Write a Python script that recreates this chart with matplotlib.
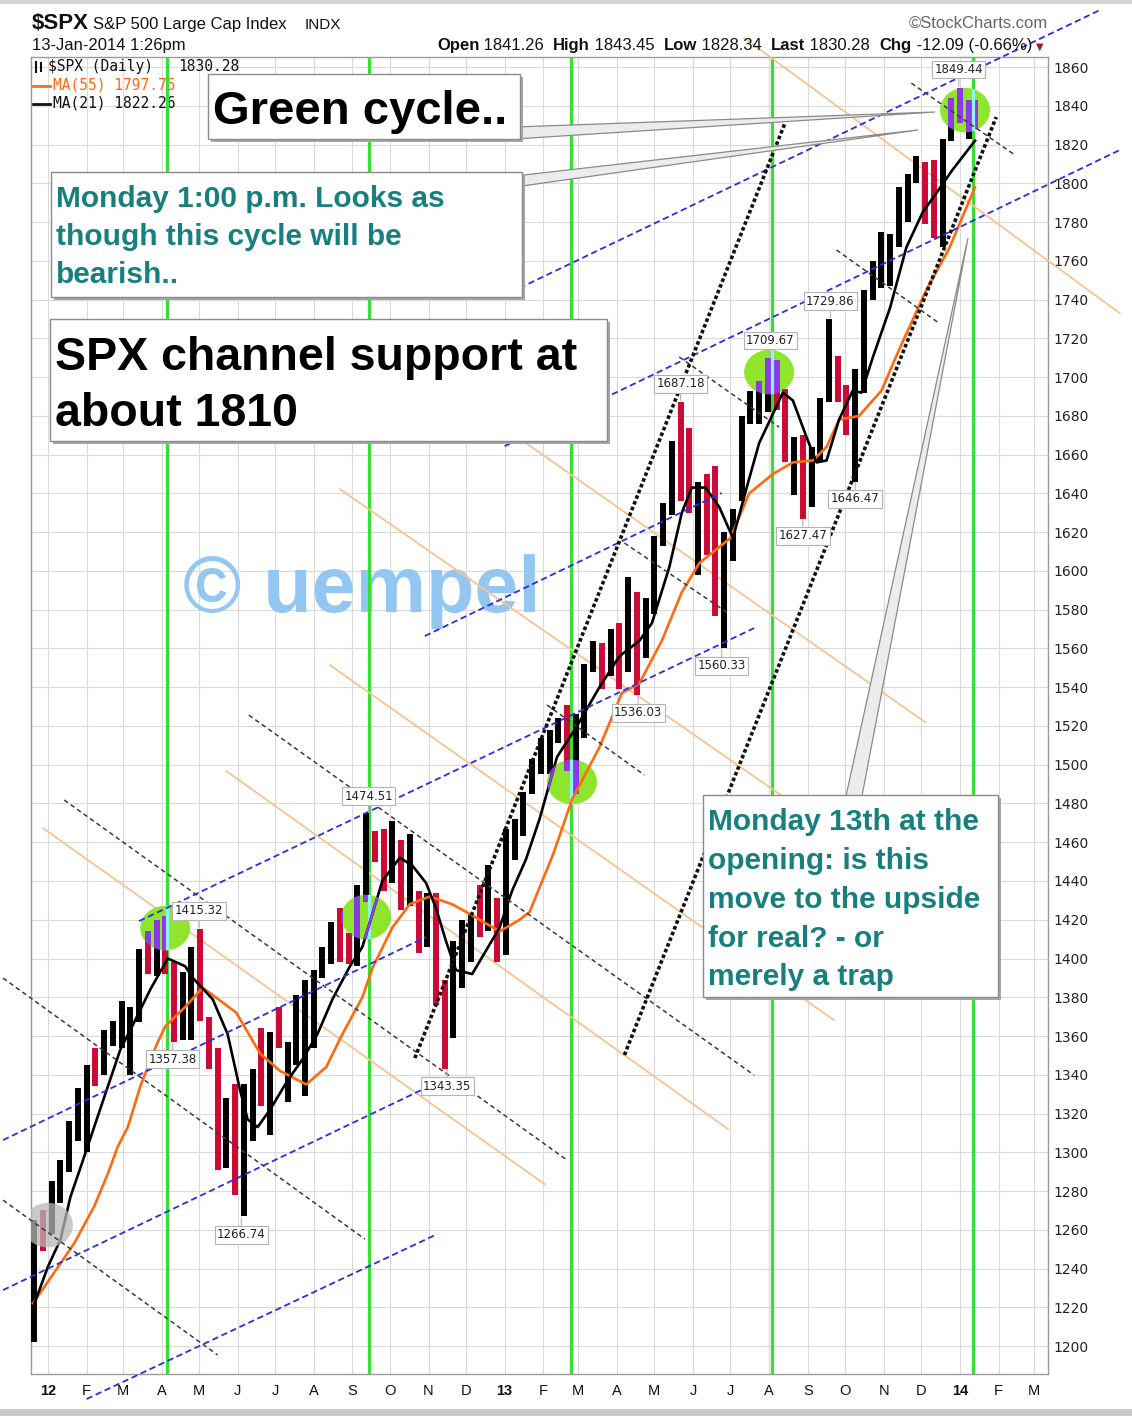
import matplotlib
matplotlib.use("Agg")
import matplotlib.pyplot as plt
import matplotlib.dates as mdates
from matplotlib.patches import Ellipse, Rectangle, Polygon
import pandas as pd

W, H = 1132, 1416

# weekly SPX bars (last one = Monday 13 Jan 2014, intraday)
week_end = list(pd.date_range("2011-12-23", "2014-01-10", freq="W-FRI")) + [pd.Timestamp("2014-01-13")]

spx_high = [
    1265, 1270,
    1285, 1296, 1316, 1333,
    1345, 1354, 1363, 1368,
    1378, 1375, 1405, 1414, 1420,
    1422, 1398, 1393, 1406,
    1415, 1370, 1354, 1328,
    1335, 1335, 1343, 1364, 1362,
    1375, 1357, 1381, 1389,
    1394, 1406, 1419, 1426, 1413,
    1438, 1475, 1466, 1467,
    1471, 1461, 1464, 1435,
    1434, 1434, 1389, 1409, 1420,
    1423, 1438, 1448, 1431,
    1467, 1472, 1486, 1503,
    1514, 1518, 1524, 1531,
    1526, 1552, 1564, 1563, 1570,
    1573, 1597, 1589, 1586,
    1618, 1635, 1667, 1687, 1674,
    1646, 1650, 1654, 1620,
    1632, 1680, 1693, 1698,
    1710, 1709, 1694, 1669, 1670,
    1664, 1689, 1730, 1711,
    1696, 1704, 1745, 1760,
    1775, 1774, 1798, 1805, 1814,
    1811, 1812, 1823, 1844,
    1849, 1843, 1843,
]
spx_low = [
    1202, 1249,
    1258, 1274, 1290, 1306,
    1300, 1334, 1340, 1355,
    1354, 1340, 1367, 1392, 1391,
    1392, 1357, 1358, 1358,
    1368, 1343, 1291, 1292,
    1278, 1267, 1306, 1324, 1309,
    1354, 1326, 1345, 1329,
    1354, 1390, 1397, 1398, 1397,
    1396, 1429, 1450, 1435,
    1439, 1425, 1427, 1403,
    1406, 1376, 1343, 1359, 1385,
    1398, 1411, 1414, 1398,
    1402, 1451, 1463, 1485,
    1495, 1495, 1511, 1497,
    1485, 1514, 1548, 1539, 1546,
    1539, 1548, 1536, 1555,
    1578, 1613, 1629, 1636, 1630,
    1598, 1608, 1577, 1560,
    1605, 1636, 1676, 1676,
    1682, 1683, 1656, 1639, 1627,
    1633, 1656, 1687, 1687,
    1670, 1646, 1692, 1740,
    1746, 1747, 1767, 1780, 1800,
    1779, 1772, 1767, 1822,
    1831, 1823, 1828,
]
spx_close = [
    1265, 1258,
    1278, 1289, 1315, 1316,
    1345, 1343, 1361, 1366,
    1370, 1371, 1404, 1397, 1408,
    1398, 1370, 1379, 1403,
    1369, 1353, 1295, 1318,
    1278, 1326, 1343, 1335, 1362,
    1355, 1357, 1363, 1386,
    1391, 1406, 1418, 1411, 1407,
    1438, 1466, 1460, 1441,
    1461, 1429, 1433, 1412,
    1414, 1380, 1360, 1409, 1416,
    1418, 1414, 1430, 1402,
    1466, 1472, 1486, 1503,
    1513, 1518, 1520, 1516,
    1518, 1551, 1561, 1557, 1569,
    1553, 1589, 1555, 1582,
    1614, 1634, 1667, 1650, 1631,
    1643, 1627, 1592, 1606,
    1632, 1680, 1692, 1692,
    1710, 1691, 1656, 1664, 1633,
    1655, 1688, 1710, 1692,
    1691, 1703, 1745, 1760,
    1762, 1771, 1798, 1805, 1806,
    1805, 1775, 1818, 1841,
    1831, 1842, 1830,
]

ma55_dates = ["2011-12-20", "2012-01-22", "2012-02-07", "2012-02-18", "2012-02-26", "2012-03-05",
              "2012-03-15", "2012-03-27", "2012-04-04", "2012-04-20", "2012-05-04", "2012-05-31",
              "2012-06-19", "2012-07-05", "2012-07-26", "2012-08-11", "2012-08-24", "2012-09-09",
              "2012-09-17", "2012-10-03", "2012-10-17", "2012-11-02", "2012-11-20", "2012-12-04",
              "2012-12-28", "2013-01-13", "2013-01-21", "2013-02-09", "2013-02-24", "2013-03-18",
              "2013-04-05", "2013-04-19", "2013-05-07", "2013-05-23", "2013-06-06", "2013-07-01",
              "2013-07-16", "2013-08-04", "2013-08-20", "2013-09-05", "2013-09-16", "2013-09-26",
              "2013-10-12", "2013-10-30", "2013-11-13", "2013-12-05", "2013-12-23", "2014-01-13"]
ma55 = [1222, 1253, 1272, 1289, 1303, 1313, 1334, 1354, 1365, 1375, 1385, 1372,
        1351, 1342, 1335, 1344, 1361, 1380, 1395, 1416, 1428, 1432, 1428, 1423,
        1414, 1420, 1424, 1454, 1482, 1509, 1537, 1542, 1564, 1589, 1604, 1617,
        1640, 1650, 1656, 1657, 1664, 1678, 1680, 1693, 1714, 1745, 1766, 1798]

ma21_dates = ["2011-12-20", "2012-01-01", "2012-01-11", "2012-01-19", "2012-01-27", "2012-02-07",
              "2012-02-18", "2012-02-28", "2012-03-10", "2012-03-23", "2012-04-06", "2012-04-20",
              "2012-04-26", "2012-05-12", "2012-05-24", "2012-06-03", "2012-06-09", "2012-06-17",
              "2012-06-27", "2012-07-11", "2012-07-23", "2012-08-04", "2012-08-16", "2012-08-30",
              "2012-09-09", "2012-09-25", "2012-10-09", "2012-10-19", "2012-10-30", "2012-11-07",
              "2012-11-15", "2012-11-23", "2012-12-06", "2012-12-17", "2012-12-28", "2013-01-07",
              "2013-01-18", "2013-01-29", "2013-02-12", "2013-02-28", "2013-03-18", "2013-04-03",
              "2013-04-19", "2013-04-29", "2013-05-13", "2013-05-23", "2013-05-31", "2013-06-11",
              "2013-06-22", "2013-07-03", "2013-07-14", "2013-07-24", "2013-08-04", "2013-08-12",
              "2013-08-20", "2013-08-31", "2013-09-08", "2013-09-16", "2013-09-26", "2013-10-07",
              "2013-10-14", "2013-10-23", "2013-11-06", "2013-11-19", "2013-12-02", "2013-12-13",
              "2013-12-26", "2014-01-13"]
ma21 = [1220, 1241, 1255, 1277, 1292, 1313, 1334, 1353, 1367, 1384, 1400, 1396,
        1390, 1379, 1361, 1332, 1317, 1313, 1322, 1337, 1348, 1361, 1379, 1396,
        1406, 1440, 1452, 1448, 1439, 1426, 1409, 1394, 1392, 1404, 1416, 1435,
        1451, 1472, 1504, 1520, 1540, 1556, 1564, 1573, 1602, 1630, 1643, 1643,
        1633, 1617, 1643, 1666, 1681, 1692, 1688, 1669, 1656, 1657, 1678, 1693,
        1692, 1710, 1736, 1767, 1785, 1795, 1807, 1822]

# green cycle lines and the highlighted turns
cycle_dates = ["2012-04-05", "2012-09-14", "2013-02-23", "2013-08-03", "2014-01-11"]
cycle_marks = [("2012-04-04", 1415.7), ("2012-09-12", 1421.4), ("2013-02-24", 1491.1),
               ("2013-08-01", 1702.6), ("2014-01-05", 1837.8)]
gray_mark = ("2012-01-01", 1262.4)

# StockCharts high / low tags: date, value, +1 above / -1 below
peak_labels = [("2012-05-01", 1415.32, 1), ("2012-04-10", 1357.38, -1), ("2012-06-04", 1266.74, -1),
               ("2012-09-14", 1474.51, 1), ("2012-11-16", 1343.35, -1), ("2013-04-18", 1536.03, -1),
               ("2013-05-22", 1687.18, 1), ("2013-06-24", 1560.33, -1), ("2013-08-02", 1709.67, 1),
               ("2013-08-28", 1627.47, -1), ("2013-09-19", 1729.86, 1), ("2013-10-09", 1646.47, -1),
               ("2013-12-31", 1849.44, 1)]

# hand-drawn trend lines: (date1, price1, date2, price2)
blue_lines = [("2011-11-26", 1306.3, "2012-10-30", 1411.1),
              ("2011-11-26", 1228.9, "2012-11-02", 1334.2),
              ("2012-02-01", 1172.7, "2012-11-08", 1257.8),
              ("2012-03-14", 1419.3, "2013-07-20", 1570.5),
              ("2012-10-29", 1566.4, "2013-06-24", 1640.2),
              ("2013-01-13", 1746.0, "2014-04-23", 1889.4),
              ("2013-01-01", 1664.4, "2014-05-09", 1817.2)]
dotted_lines = [("2012-10-21", 1348.6, "2013-08-14", 1831.6),
                ("2013-04-07", 1350.2, "2014-01-30", 1834.2)]
dashed_lines = [("2011-11-26", 1389.9, "2012-09-11", 1255.2),
                ("2012-06-10", 1525.6, "2013-07-20", 1339.8),
                ("2012-01-14", 1481.8, "2013-02-20", 1296.0),
                ("2011-11-26", 1275.3, "2012-05-16", 1195.4),
                ("2013-02-04", 1530.8, "2013-04-23", 1494.7),
                ("2013-04-07", 1614.4, "2013-06-29", 1578.3),
                ("2013-05-21", 1710.4, "2013-08-09", 1674.2),
                ("2013-09-24", 1765.6, "2013-12-14", 1728.4),
                ("2013-11-23", 1851.7, "2014-02-14", 1814.6)]
orange_lines = [("2011-12-28", 1467.3, "2013-02-02", 1283.6),
                ("2012-05-23", 1496.7, "2013-06-29", 1312.0),
                ("2012-08-14", 1551.4, "2013-09-22", 1368.2),
                ("2012-08-22", 1642.2, "2013-12-04", 1432.7),
                ("2013-01-18", 1666.0, "2013-12-04", 1522.0),
                ("2013-07-12", 1875.0, "2014-05-09", 1733.0)]

y_ticks = list(range(1200, 1861, 20))
months = pd.date_range("2012-01-01", "2014-03-01", freq="MS")

SANS = ["Liberation Sans", "DejaVu Sans"]
TEAL = "#17807f"
plt.rcParams["font.family"] = ["DejaVu Sans"]


def dn(s):
    return mdates.date2num(pd.Timestamp(s).to_pydatetime())


def fx(x):
    return x / W


def fy(y):
    return 1 - y / H


fig = plt.figure(figsize=(W / 100, H / 100), dpi=100)
fig.patch.set_facecolor("white")
ax = fig.add_axes([fx(31), fy(1374), (1048 - 31) / W, (1374 - 57) / H])
base = dn("2012-01-01")
ax.set_xlim(base - 13.6, base + 801.5)
ax.set_ylim(1185.6, 1865.2)

# grid / axes
ax.set_yticks(y_ticks)
ax.set_xticks([dn(m) for m in months])
ax.set_xticklabels([m.strftime("%y") if m.month == 1 else m.strftime("%b")[0] for m in months])
for lab, m in zip(ax.get_xticklabels(), months):
    lab.set_family(SANS)
    if m.month == 1:
        lab.set_fontweight("bold")
        lab.set_fontsize(12)
ax.yaxis.tick_right()
ax.tick_params(axis="y", length=0, pad=4, labelsize=10, labelcolor="#222222")
ax.tick_params(axis="x", length=0, pad=7, labelsize=10.5, labelcolor="#111111")
ax.grid(True, color="#dadada", lw=0.8)
ax.set_axisbelow(True)
for sp in ax.spines.values():
    sp.set_color("#9a9a9a")
    sp.set_linewidth(1)

# cycle lines
for d in cycle_dates:
    ax.axvline(dn(d), color="#35e035", lw=2.3, zorder=3)

# price bars
bar_x = [dn(d) - 2 for d in week_end[:-1]] + [dn(week_end[-1])]
cols = []
for i, c in enumerate(spx_close):
    prev = spx_close[i - 1] if i > 0 else c
    cols.append("#000000" if c >= prev else "#cc0a35")
ax.vlines(bar_x, spx_low, spx_high, colors=cols, lw=4.3, zorder=4)

ax.plot([dn(d) for d in ma55_dates], ma55, color="#ff6a10", lw=1.9, zorder=5)
ax.plot([dn(d) for d in ma21_dates], ma21, color="#000000", lw=1.9, zorder=5)

# green highlight circles, bars inside turn violet
for d, p in cycle_marks:
    e = Ellipse((dn(d), p), 40, 23, fc="#8ee52c", ec="none", zorder=3.5)
    ax.add_patch(e)
    pv = ax.vlines(bar_x, spx_low, spx_high, colors="#8c3ae6", lw=4.3, zorder=4.2)
    pv.set_clip_path(e)
    for cd in cycle_dates:
        ax.axvline(dn(cd), color="#90f4f4", lw=2.3, zorder=4.3).set_clip_path(e)
    mv, = ax.plot([dn(x) for x in ma21_dates], ma21, color="#8c3ae6", lw=1.9, zorder=5.1)
    mv.set_clip_path(e)
ax.add_patch(Ellipse((dn(gray_mark[0]), gray_mark[1]), 40, 23, fc="#b8b8b8", ec="none",
                     alpha=0.75, zorder=5.5))


def seg(lines, **kw):
    for d1, p1, d2, p2 in lines:
        ax.plot([dn(d1), dn(d2)], [p1, p2], clip_on=False, **kw)


seg(orange_lines, color="#f6c391", lw=1.3, zorder=3)
seg(dashed_lines, color="#3a3a3a", lw=1.1, dashes=(3, 2.2), zorder=6)
seg(blue_lines, color="#2b2be8", lw=1.3, dashes=(3.5, 2), zorder=6)
seg(dotted_lines, color="#111111", lw=2.6, dashes=(1.0, 0.7), zorder=6)

# watermark
ax.text(fx(183), fy(612), "\u00a9 uempel", transform=fig.transFigure, fontsize=57,
        fontweight="bold", color="#93c6f1", family=SANS, zorder=2.5)

# high / low tags
for d, v, side in peak_labels:
    ax.annotate(f"{v:.2f}", xy=(dn(d), v), xytext=(0, 18 * side), textcoords="offset pixels",
                ha="center", va="center", fontsize=8.5, color="#222222", zorder=7,
                annotation_clip=False,
                bbox=dict(boxstyle="square,pad=0.2", fc="white", ec="#b4b4b4", lw=0.8),
                arrowprops=dict(arrowstyle="-", color="#b4b4b4", lw=0.8, shrinkA=0, shrinkB=1))

# in-chart legend (under the green line and the boxes)
MONO = ["DejaVu Sans Mono"]
ax.text(fx(48), fy(71), "$SPX (Daily)", transform=fig.transFigure, fontsize=10.5,
        family=MONO, color="#111111", zorder=2)
ax.text(fx(178), fy(71), "1830.28", transform=fig.transFigure, fontsize=10.5,
        family=MONO, color="#111111", zorder=2)
ax.plot([fx(36), fx(36)], [fy(72), fy(62)], transform=fig.transFigure, color="#111111", lw=1.5, zorder=2)
ax.plot([fx(41), fx(41)], [fy(71), fy(63)], transform=fig.transFigure, color="#111111", lw=1.5, zorder=2)
ax.plot([fx(33), fx(50)], [fy(86), fy(86)], transform=fig.transFigure, color="#ff6a10", lw=2, zorder=2)
ax.text(fx(53), fy(90), "MA(55) 1797.75", transform=fig.transFigure, fontsize=10.5,
        family=MONO, color="#ff6a10", zorder=2)
ax.plot([fx(33), fx(50)], [fy(104), fy(104)], transform=fig.transFigure, color="#111111", lw=2, zorder=2)
ax.text(fx(53), fy(108), "MA(21) 1822.26", transform=fig.transFigure, fontsize=10.5,
        family=MONO, color="#111111", zorder=2)


# callout boxes
def callout(x0, y0, x1, y1):
    fig.add_artist(Rectangle((fx(x0 + 3), fy(y1 + 3)), (x1 - x0) / W, (y1 - y0) / H,
                             transform=fig.transFigure, fc="#a6a6a6", ec="none", zorder=10))
    fig.add_artist(Rectangle((fx(x0), fy(y1)), (x1 - x0) / W, (y1 - y0) / H,
                             transform=fig.transFigure, fc="white", ec="#8a8a8a", lw=1, zorder=11))


def wedge(pts):
    fig.add_artist(Polygon([(fx(x), fy(y)) for x, y in pts], closed=True, transform=fig.transFigure,
                           fc="#ececec", ec="#8a8a8a", lw=0.9, zorder=9))


def lines_of(x, baselines, texts, size, color):
    for b, t in zip(baselines, texts):
        fig.text(fx(x), fy(b), t, fontsize=size, fontweight="bold", family=SANS,
                 color=color, va="baseline", ha="left", zorder=12)


wedge([(515, 127), (935, 112), (515, 139)])
wedge([(515, 176), (918, 130), (515, 187)])
wedge([(846, 796), (968, 238), (862, 796)])

callout(208, 74, 520, 139)
lines_of(213, [124], ["Green cycle.."], 34, "black")

callout(51, 172, 522, 297)
lines_of(56, [207, 245, 283], ["Monday 1:00 p.m. Looks as", "though this cycle will be", "bearish.."],
         21.5, TEAL)

callout(50, 319, 607, 441)
lines_of(55, [370, 426], ["SPX channel support at", "about 1810"], 33.5, "black")

callout(703, 795, 998, 997)
lines_of(708, [830, 869, 908, 947, 985],
         ["Monday 13th at the", "opening: is this", "move to the upside", "for real? - or", "merely a trap"],
         21.5, TEAL)

# header
fig.text(fx(32), fy(29), "$SPX", fontsize=16, fontweight="bold", family=SANS, color="#111111")
fig.text(fx(93), fy(29), "S&P 500 Large Cap Index", fontsize=12, family=SANS, color="#111111")
fig.text(fx(305), fy(29), "INDX", fontsize=11, family=SANS, color="#111111")
fig.text(fx(32), fy(50), "13-Jan-2014 1:26pm", fontsize=12, family=SANS, color="#111111")
fig.text(fx(1048), fy(28), "\u00a9StockCharts.com", fontsize=12, family=SANS, color="#666666", ha="right")

renderer = fig.canvas.get_renderer()
pieces = [("Open", True), (" 1841.26  ", False), ("High", True), (" 1843.45  ", False),
          ("Low", True), (" 1828.34  ", False), ("Last", True), (" 1830.28  ", False),
          ("Chg", True), (" -12.09 (-0.66%)", False)]
objs = []
total = 0
for s, bold in pieces:
    t = fig.text(0, fy(50), s, fontsize=12, fontweight="bold" if bold else "normal",
                 family=SANS, color="#111111", va="baseline")
    w = t.get_window_extent(renderer).width
    objs.append((t, w))
    total += w
x = 1032 - total
for t, w in objs:
    t.set_x(fx(x))
    x += w
fig.text(fx(1036), fy(50), "\u25bc", fontsize=7, color="#a51030", va="baseline")

# page bands
fig.add_artist(Rectangle((0, 0), 1, 7 / H, transform=fig.transFigure, fc="#c9c9c9", ec="none", zorder=1))
fig.add_artist(Rectangle((0, fy(4)), 1, 4 / H, transform=fig.transFigure, fc="#d4d4d4", ec="none", zorder=1))

fig.savefig("out.png", dpi=100)
